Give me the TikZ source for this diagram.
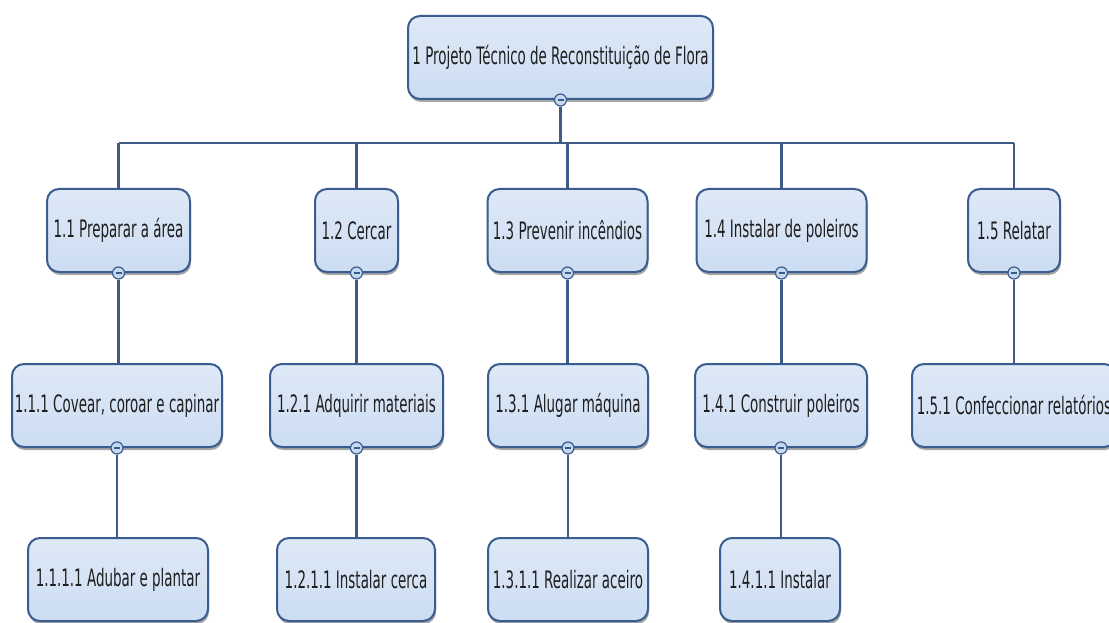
\documentclass[tikz,border=0pt]{standalone}
\usepackage{fontspec}
\usetikzlibrary{shadows}
\newfontfamily\wbsfont{DejaVu Sans}[FakeStretch=0.56]
\definecolor{boxborder}{RGB}{58,92,142}
\definecolor{conncol}{RGB}{62,90,135}
\definecolor{filltop}{RGB}{222,233,247}
\definecolor{fillmid}{RGB}{248,251,254}
\definecolor{fillbot}{RGB}{204,221,242}
\definecolor{txtcol}{RGB}{30,30,30}
\definecolor{togfill}{RGB}{196,216,240}
\tikzset{
  wbs/.style={draw=boxborder, line width=2pt, rounded corners=12pt,
    top color=filltop, middle color=fillmid, bottom color=fillbot,
    minimum height=83pt, inner sep=2pt, text=txtcol,
    font=\wbsfont\fontsize{24}{26}\selectfont,
    drop shadow={shadow xshift=1pt, shadow yshift=-3pt, fill=black, opacity=0.35}},
  toggle/.style={circle, draw=boxborder, fill=togfill, line width=1.2pt,
    minimum size=12pt, inner sep=0pt,
    path picture={\draw[boxborder, line width=1.2pt]
      ([xshift=-3pt]path picture bounding box.center) --
      ([xshift=3pt]path picture bounding box.center);}},
  conn/.style={draw=conncol, line width=2.2pt}
}
\begin{document}
\begin{tikzpicture}[x=1pt, y=-1pt]
\useasboundingbox (0,0) rectangle (1109,623);
\clip (0,0) rectangle (1109,623);
\fill[white] (0,0) rectangle (1109,623);
\coordinate (bar) at (0,143);
\path (560.5,57.5) node[wbs, minimum width=305pt] (r) {1 Projeto Técnico de Reconstituição de Flora};
\path (118.5,230.5) node[wbs, minimum width=143pt] (n11) {1.1 Preparar a área};
\path (356.5,230.5) node[wbs, minimum width=83pt] (n12) {1.2 Cercar};
\path (567.5,230.5) node[wbs, minimum width=160pt] (n13) {1.3 Prevenir incêndios};
\path (781.5,230.5) node[wbs, minimum width=170pt] (n14) {1.4 Instalar de poleiros};
\path (1014,230.5) node[wbs, minimum width=92pt] (n15) {1.5 Relatar};
\path (117,405.5) node[wbs, minimum width=210pt] (n111) {1.1.1 Covear, coroar e capinar};
\path (356.5,405.5) node[wbs, minimum width=173pt] (n121) {1.2.1 Adquirir materiais};
\path (568,405.5) node[wbs, minimum width=160pt] (n131) {1.3.1 Alugar máquina};
\path (781,405.5) node[wbs, minimum width=172pt] (n141) {1.4.1 Construir poleiros};
\path (1014,405.5) node[wbs, minimum width=204pt] (n151) {1.5.1 Confeccionar relatórios};
\path (118,579.5) node[wbs, minimum width=180pt] (n1111) {1.1.1.1 Adubar e plantar};
\path (356,579.5) node[wbs, minimum width=158pt] (n1211) {1.2.1.1 Instalar cerca};
\path (568,579.5) node[wbs, minimum width=160pt] (n1311) {1.3.1.1 Realizar aceiro};
\path (780,579.5) node[wbs, minimum width=120pt] (n1411) {1.4.1.1 Instalar};
% toggles
\node[toggle] (tr) at (r.south) {};
\node[toggle] (t11) at (n11.south) {};
\node[toggle] (t12) at (n12.south) {};
\node[toggle] (t13) at (n13.south) {};
\node[toggle] (t14) at (n14.south) {};
\node[toggle] (t15) at (n15.south) {};
\node[toggle] (t111) at (n111.south) {};
\node[toggle] (t121) at (n121.south) {};
\node[toggle] (t131) at (n131.south) {};
\node[toggle] (t141) at (n141.south) {};
% connectors
\draw[conn] (tr.south) -- (tr.south |- bar);
\draw[conn] (n11.north |- bar) -- (n15.north |- bar);
\foreach \c in {n11,n12,n13,n14,n15}{
  \draw[conn] (\c.north |- bar) -- (\c.north);
}
\draw[conn] (t11.south) -- (t11.south |- n111.north);
\draw[conn] (t12.south) -- (t12.south |- n121.north);
\draw[conn] (t13.south) -- (t13.south |- n131.north);
\draw[conn] (t14.south) -- (t14.south |- n141.north);
\draw[conn] (t15.south) -- (t15.south |- n151.north);
\draw[conn] (t111.south) -- (t111.south |- n1111.north);
\draw[conn] (t121.south) -- (t121.south |- n1211.north);
\draw[conn] (t131.south) -- (t131.south |- n1311.north);
\draw[conn] (t141.south) -- (t141.south |- n1411.north);
\end{tikzpicture}
\end{document}
